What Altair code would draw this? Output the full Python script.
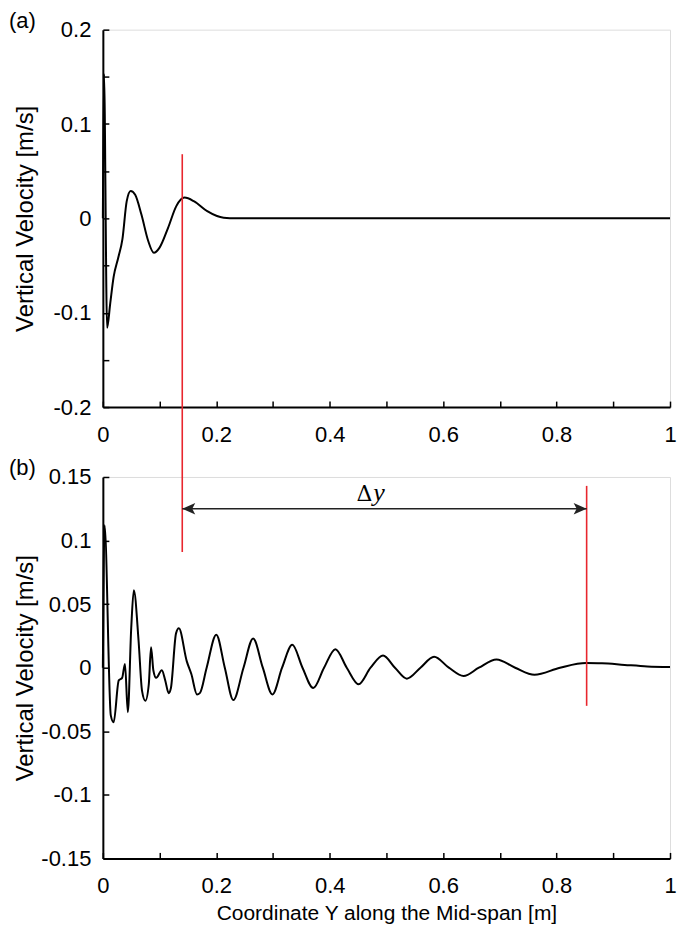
import altair as alt
import pandas as pd

# ---------------- data ----------------
# panel (a)
x_a = [0, 0.002, 0.0075, 0.013, 0.019, 0.027, 0.0345, 0.042, 0.049, 0.057,
       0.068, 0.080, 0.090, 0.100, 0.115, 0.1295, 0.144, 0.161, 0.184, 0.213,
       0.235, 0.30, 0.50, 0.80, 1.0]
y_a = [0, 0.153, -0.116, -0.09, -0.062, -0.042, -0.022, 0.018, 0.029, 0.025,
       0.004, -0.024, -0.0365, -0.031, -0.010, 0.013, 0.022, 0.018, 0.0076, 0.0006,
       0, 0, 0, 0, 0]

# panel (b)
x_b = [0, 0.003, 0.014, 0.019, 0.028, 0.034, 0.039, 0.044, 0.050, 0.0546,
       0.063, 0.069, 0.075, 0.081, 0.085, 0.089, 0.094, 0.104, 0.110, 0.116,
       0.120, 0.129, 0.134, 0.148, 0.156, 0.166, 0.171, 0.183, 0.200, 0.215,
       0.230, 0.248, 0.265, 0.282, 0.299, 0.316, 0.334, 0.352, 0.371, 0.390,
       0.410, 0.430, 0.451, 0.472, 0.494, 0.515, 0.536, 0.560, 0.584, 0.610,
       0.636, 0.663, 0.694, 0.727, 0.761, 0.806, 0.852, 0.880, 0.920, 0.960,
       1.0]
y_b = [0, 0.112, -0.0375, -0.043, -0.010, -0.008, 0.003, -0.035, 0.031, 0.061,
       0.021, -0.018, -0.026, -0.013, 0.016, -0.002, -0.008, -0.002, -0.010, -0.020,
       -0.016, 0.027, 0.031, 0.005, -0.005, -0.021, -0.020, 0.0, 0.026, 0.0,
       -0.0255, 0.0, 0.023, 0.0, -0.021, 0.0, 0.018, 0.0, -0.016, 0.0,
       0.0146, 0.0, -0.013, 0.0, 0.0096, 0.0, -0.0086, 0.0, 0.0086, 0.0,
       -0.0065, 0.0, 0.0065, 0.0, -0.0055, 0.0, 0.0036, 0.0035, 0.0022, 0.001,
       0.0005]

# axes
x_ticks = [0, 0.1, 0.2, 0.3, 0.4, 0.5, 0.6, 0.7, 0.8, 0.9, 1]
x_labels = [0, 0.2, 0.4, 0.6, 0.8, 1]
ya_domain = [-0.2, 0.2]
ya_ticks = [-0.2, -0.15, -0.1, -0.05, 0, 0.05, 0.1, 0.15, 0.2]
ya_labels = [-0.2, -0.1, 0, 0.1, 0.2]
yb_domain = [-0.15, 0.15]
yb_ticks = [-0.15, -0.125, -0.1, -0.075, -0.05, -0.025, 0, 0.025, 0.05,
            0.075, 0.1, 0.125, 0.15]
yb_labels = [-0.15, -0.1, -0.05, 0, 0.05, 0.1, 0.15]

# annotations
panel_labels = ["(a)", "(b)"]
marker_left_x = 0.14
marker_right_x = 0.853
marker_left_top_a = 0.068      # top of left red line in panel (a)
marker_left_bottom_b = 0.091   # bottom of left red line in panel (b)
marker_right_y = [0.143, -0.03]
arrow_y = 0.125
delta_label_x = 0.475
delta_label_y = 0.1315

# ---------------- layout / style ----------------
FONT = "Liberation Sans"
W = 568
H_A = 378
H_B = 382
GAP = 70
RED = "#e8262d"


def make_axis(ticks, labels, title, label_pad, title_pad=None, title_x=None, title_size=24):
    lab = "[" + ",".join(str(v) for v in labels) + "]"
    kw = dict(
        values=ticks,
        labelExpr=f"indexof({lab}, datum.value) >= 0 ? toString(datum.value) : ''",
        grid=False,
        domainColor="black",
        domainWidth=2,
        tickColor="black",
        tickWidth=1.5,
        tickSize={"expr": "-6"},
        labelPadding=label_pad,
        labelFont=FONT,
        labelFontSize=22,
        labelColor="black",
        labelFlush=False,
        labelOverlap=False,
        titleFont=FONT,
        titleFontSize=title_size,
        titleFontWeight="normal",
        titleColor="black",
    )
    kw["title"] = title
    if title_pad is not None:
        kw["titlePadding"] = title_pad
    if title_x is not None:
        kw["titleX"] = title_x
    return alt.Axis(**kw)


def panel_label(txt):
    return alt.Chart(pd.DataFrame({"t": [txt]})).mark_text(
        align="left", baseline="middle", font=FONT, fontSize=22, color="black"
    ).encode(text="t:N", x=alt.value(-94), y=alt.value(-9))


# ---------------- panel (a) ----------------
df_a = pd.DataFrame({"x": x_a, "v": y_a})
xs_a = alt.Scale(domain=[0, 1], nice=False, zero=False)
ys_a = alt.Scale(domain=ya_domain, nice=False, zero=False)

line_a = alt.Chart(df_a).mark_line(color="black", strokeWidth=2, interpolate="monotone").encode(
    x=alt.X("x:Q", scale=xs_a, axis=make_axis(x_ticks, x_labels, None, 23)),
    y=alt.Y("v:Q", scale=ys_a, axis=make_axis(ya_ticks, ya_labels, "Vertical Velocity [m/s]", 18, title_x=-65)),
)
red_a = alt.Chart(pd.DataFrame({"x": [marker_left_x], "y1": [marker_left_top_a], "y2": [ya_domain[0]]})).mark_rule(
    color=RED, strokeWidth=1.6).encode(x="x:Q", y="y1:Q", y2="y2:Q")

panel_a = alt.layer(line_a, red_a, panel_label(panel_labels[0])).properties(width=W, height=H_A)

# ---------------- panel (b) ----------------
df_b = pd.DataFrame({"x": x_b, "v": y_b})
xs_b = alt.Scale(domain=[0, 1], nice=False, zero=False)
ys_b = alt.Scale(domain=yb_domain, nice=False, zero=False)
# the left red line continues up through the gap to meet panel (a)
red_left_top_b = yb_domain[1] + GAP / H_B * (yb_domain[1] - yb_domain[0])

line_b = alt.Chart(df_b).mark_line(color="black", strokeWidth=2, interpolate="monotone").encode(
    x=alt.X("x:Q", scale=xs_b, axis=make_axis(x_ticks, x_labels, "Coordinate Y along the Mid-span [m]", 23,
                                              title_pad=6, title_size=21)),
    y=alt.Y("v:Q", scale=ys_b, axis=make_axis(yb_ticks, yb_labels, "Vertical Velocity [m/s]", 18, title_x=-65)),
)
red_b = alt.Chart(pd.DataFrame({
    "x": [marker_left_x, marker_right_x],
    "y1": [marker_left_bottom_b, marker_right_y[1]],
    "y2": [red_left_top_b, marker_right_y[0]],
})).mark_rule(color=RED, strokeWidth=1.6).encode(x="x:Q", y="y1:Q", y2="y2:Q")

arrow_line = alt.Chart(pd.DataFrame({"x1": [marker_left_x], "x2": [marker_right_x], "y": [arrow_y]})).mark_rule(
    color="#222222", strokeWidth=1.5).encode(x="x1:Q", x2="x2:Q", y="y:Q")
head_left = alt.Chart(pd.DataFrame({"x": [marker_left_x], "y": [arrow_y]})).mark_point(
    shape="M0,0L1,-0.44L0.77,0L1,0.44Z", filled=True, color="#222222", opacity=1, size=676, strokeWidth=0
).encode(x="x:Q", y="y:Q")
head_right = alt.Chart(pd.DataFrame({"x": [marker_right_x], "y": [arrow_y]})).mark_point(
    shape="M0,0L-1,-0.44L-0.77,0L-1,0.44Z", filled=True, color="#222222", opacity=1, size=676, strokeWidth=0
).encode(x="x:Q", y="y:Q")

lab_df = pd.DataFrame({"x": [delta_label_x], "y": [delta_label_y]})
delta_txt = alt.Chart(lab_df).mark_text(text="Δ", align="right", baseline="alphabetic",
                                        font="DejaVu Serif", fontSize=22, color="black").encode(x="x:Q", y="y:Q")
y_txt = alt.Chart(lab_df).mark_text(text="y", align="left", baseline="alphabetic", dx=1,
                                    font="Liberation Serif", fontStyle="italic", fontSize=26,
                                    color="black").encode(x="x:Q", y="y:Q")

panel_b = alt.layer(line_b, red_b, arrow_line, head_left, head_right, delta_txt, y_txt,
                    panel_label(panel_labels[1])).properties(width=W, height=H_B)

chart = alt.vconcat(panel_a, panel_b, spacing=GAP, bounds="flush").resolve_scale(
    x="independent", y="independent"
).properties(
    padding={"left": 0, "top": 0, "right": 0, "bottom": 0}
).configure_view(stroke=None).configure(background="white")

chart.save("out.html", embed_options={"renderer": "svg", "actions": False})
